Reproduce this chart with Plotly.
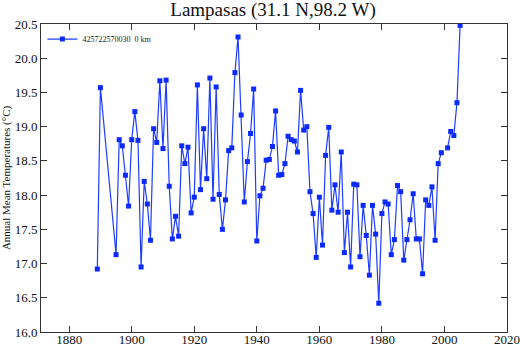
import plotly.graph_objects as go

years = [1889, 1890,
         1895, 1896, 1897, 1898, 1899, 1900, 1901, 1902, 1903, 1904, 1905, 1906, 1907, 1908, 1909,
         1910, 1911, 1912, 1913, 1914, 1915, 1916, 1917, 1918, 1919,
         1920, 1921, 1922, 1923, 1924, 1925, 1926, 1927, 1928, 1929,
         1930, 1931, 1932, 1933, 1934, 1935, 1936, 1937, 1938, 1939,
         1940, 1941, 1942, 1943, 1944, 1945, 1946, 1947, 1948, 1949,
         1950, 1951, 1952, 1953, 1954, 1955, 1956, 1957, 1958, 1959,
         1960, 1961, 1962, 1963, 1964, 1965, 1966, 1967, 1968, 1969,
         1970, 1971, 1972, 1973, 1974, 1975, 1976, 1977, 1978, 1979,
         1980, 1981, 1982, 1983, 1984, 1985, 1986, 1987, 1988, 1989,
         1990, 1991, 1992, 1993, 1994, 1995, 1996, 1997, 1998, 1999,
         2000, 2001, 2002, 2003, 2004, 2005]
temps = [16.92, 19.57,
         17.13, 18.81, 18.72, 18.29, 17.84, 18.81, 19.22, 18.80, 16.95, 18.20, 17.87, 17.34, 18.97, 18.77, 19.67,
         18.68, 19.68, 18.13, 17.36, 17.69, 17.40, 18.72, 18.46, 18.70, 17.74,
         17.97, 19.61, 18.08, 18.97, 18.24, 19.71, 17.94, 19.58, 18.01, 17.50,
         17.93, 18.65, 18.69, 19.79, 20.31, 19.17, 17.90, 18.49, 18.90, 19.55,
         17.33, 17.99, 18.10, 18.51, 18.52, 18.71, 19.23, 18.29, 18.30, 18.46,
         18.86, 18.81, 18.79, 18.63, 19.53, 18.95, 19.00, 18.05, 17.73, 17.09,
         17.97, 17.27, 18.58, 18.99, 17.78, 18.15, 17.75, 18.63, 17.16, 17.75,
         16.95, 18.16, 18.15, 17.10, 17.85, 17.41, 16.83, 17.85, 17.43, 16.42,
         17.73, 17.90, 17.87, 17.13, 17.35, 18.14, 18.05, 17.05, 17.35, 17.64,
         18.02, 17.36, 17.36, 16.85, 17.93, 17.85, 18.12, 17.34, 18.46, 18.62,
         None, 18.69, 18.93, 18.87, 19.35, 20.48]

series_name = "425722570030  0 km"
title_text = "Lampasas (31.1 N,98.2 W)"
y_title = "Annual Mean Temperatures (°C)"
x_ticks = [1880, 1900, 1920, 1940, 1960, 1980, 2000, 2020]
y_ticks = [16.0, 16.5, 17.0, 17.5, 18.0, 18.5, 19.0, 19.5, 20.0, 20.5]

blue = "#1f3dff"
font_family = "Liberation Serif"

fig = go.Figure()
fig.add_trace(go.Scatter(
    x=years, y=temps, mode="lines+markers", name=series_name,
    connectgaps=False,
    line=dict(color=blue, width=1.2),
    marker=dict(symbol="square", size=5, color="#0a2aff"),
))

axis_common = dict(
    showgrid=False, zeroline=False, showline=True, linecolor="#333333", linewidth=1,
    mirror="allticks", ticks="inside", ticklen=6, tickcolor="#333333",
)

fig.update_layout(
    width=520, height=347,
    margin=dict(l=41, r=13, t=24, b=15),
    paper_bgcolor="white", plot_bgcolor="white",
    font=dict(family=font_family, color="#111111"),
    title=dict(text=title_text, x=0.525, xanchor="center", y=0.972, yanchor="middle",
               font=dict(family=font_family, size=19, color="#111111")),
    showlegend=True,
    legend=dict(x=0.003, y=0.998, xanchor="left", yanchor="top",
                bgcolor="rgba(0,0,0,0)", borderwidth=0,
                font=dict(family=font_family, size=8, color="#222222"),
                itemwidth=30, tracegroupgap=0),
    xaxis=dict(range=[1871, 2020], tickvals=x_ticks, ticktext=[str(t) for t in x_ticks],
               automargin=False, ticklabelstandoff=-5,
               tickfont=dict(family=font_family, size=13, color="#111111"),
               **axis_common),
    yaxis=dict(range=[16.0, 20.5], tickvals=y_ticks, ticktext=[f"{t:.1f}" for t in y_ticks],
               automargin=False,
               tickfont=dict(family=font_family, size=13, color="#111111"),
               title=dict(text=y_title, standoff=2, font=dict(family=font_family, size=11, color="#111111")),
               **axis_common),
)

fig.write_html("out.html")
